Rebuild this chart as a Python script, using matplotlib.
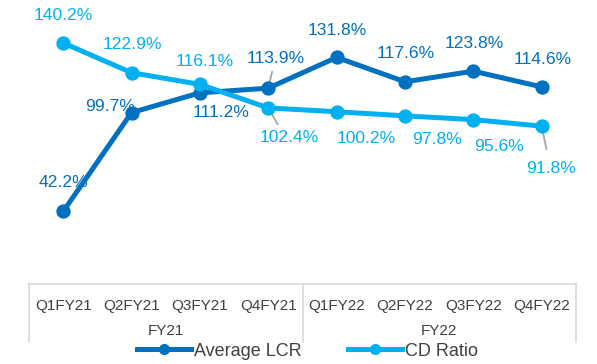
import matplotlib
matplotlib.use("Agg")
import matplotlib.pyplot as plt
from matplotlib.lines import Line2D

plt.rcParams['font.family'] = ['Liberation Sans', 'DejaVu Sans']

quarters = ["Q1FY21", "Q2FY21", "Q3FY21", "Q4FY21",
            "Q1FY22", "Q2FY22", "Q3FY22", "Q4FY22"]
years = ["FY21", "FY22"]
avg_lcr = [42.2, 99.7, 111.2, 113.9, 131.8, 117.6, 123.8, 114.6]
cd_ratio = [140.2, 122.9, 116.1, 102.4, 100.2, 97.8, 95.6, 91.8]

LCR_COLOR = "#0070C0"
CD_COLOR = "#00B0F0"
GRID_COLOR = "#D9D9D9"
TEXT_COLOR = "#404040"
LEADER_COLOR = "#A6A6A6"

W, H = 597, 364
fig = plt.figure(figsize=(W / 100, H / 100), dpi=100)
left, right, bottom_px, top_px = 29, 576, 284, 8.9
ax = fig.add_axes([left / W, 1 - bottom_px / H, (right - left) / W, (bottom_px - top_px) / H])

x = list(range(len(quarters)))
ax.plot(x, avg_lcr, color=LCR_COLOR, lw=3.6, marker="o", ms=9.3,
        solid_capstyle="round", zorder=3, label="Average LCR")
ax.plot(x, cd_ratio, color=CD_COLOR, lw=3.6, marker="o", ms=9.3,
        solid_capstyle="round", zorder=4, label="CD Ratio")

ax.set_xlim(-0.5, len(quarters) - 0.5)
ax.set_ylim(0, 160)
ax.set_yticks([])
for s in ["left", "right", "top"]:
    ax.spines[s].set_visible(False)
ax.spines["bottom"].set_color(GRID_COLOR)
ax.spines["bottom"].set_linewidth(1.2)
ax.set_xticks(x)
ax.set_xticklabels(quarters, fontsize=11, color=TEXT_COLOR)
ax.tick_params(axis="x", length=0, pad=11)

# group boxes under the quarter labels
trans = ax.get_xaxis_transform()
for xb in [-0.5, 3.5, 7.5]:
    ax.plot([xb, xb], [0, -0.21], transform=trans, color=GRID_COLOR,
            lw=1.2, clip_on=False)
for i, yr in enumerate(years):
    ax.text(1.5 + 4 * i, -0.17, yr, transform=trans, ha="center", va="center",
            fontsize=11, color=TEXT_COLOR)

# data labels: (dx, dy) pixel offsets and whether a leader line is drawn
lcr_offsets = [(0, 29), (-22, 6), (21, -20), (7, 30), (1, 27), (1, 28), (1, 28), (1, 27)]
lcr_leader = [False, False, False, True, False, False, False, False]
cd_offsets = [(0, 27), (1, 28), (5, 23), (21, -30), (29, -27), (32, -24), (26, -27), (9, -42)]
cd_leader = [False, False, False, True, False, False, False, True]

def label_series(values, offsets, leaders, color):
    for xi, v, (dx, dy), lead in zip(x, values, offsets, leaders):
        ax.annotate(f"{v:.1f}%", (xi, v), xytext=(dx, dy), textcoords="offset pixels",
                    ha="center", va="center", fontsize=12.6, color=color, zorder=5)
        if lead:
            sx = 1 if dx > 0 else -1
            sy = 1 if dy > 0 else -1
            ax.annotate("", (xi, v), xytext=(dx * 0.4 + sx * 1, dy * 0.55),
                        textcoords="offset pixels",
                        arrowprops=dict(arrowstyle="-", color=LEADER_COLOR, lw=1.3,
                                        shrinkA=0, shrinkB=2),
                        zorder=2)

label_series(avg_lcr, lcr_offsets, lcr_leader, LCR_COLOR)
label_series(cd_ratio, cd_offsets, cd_leader, CD_COLOR)

handles = [Line2D([], [], color=LCR_COLOR, lw=3.6, marker="o", ms=7),
           Line2D([], [], color=CD_COLOR, lw=3.6, marker="o", ms=7)]
leg = fig.legend(handles, ["Average LCR", "CD Ratio"], loc="center",
                 bbox_to_anchor=(0.515, 1 - 351 / H), ncol=2, frameon=False,
                 fontsize=13, handlelength=3.0, handletextpad=0.15,
                 columnspacing=2.6, borderpad=0, borderaxespad=0)
for t in leg.get_texts():
    t.set_color(TEXT_COLOR)

fig.savefig("out.png", dpi=100)
